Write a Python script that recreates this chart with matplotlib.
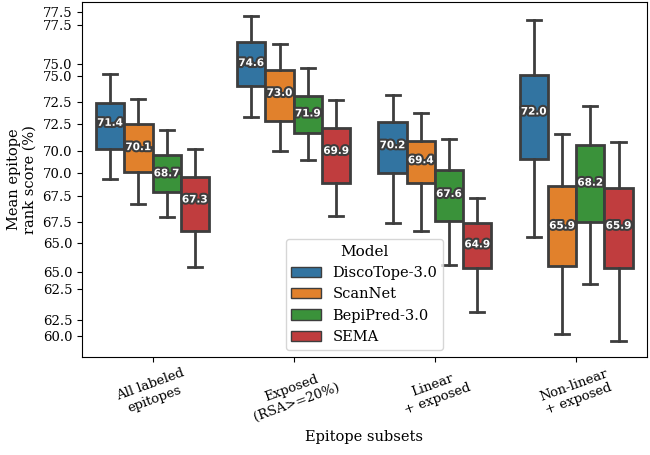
import matplotlib
matplotlib.use("Agg")
import matplotlib.pyplot as plt
import matplotlib.patheffects as pe
from matplotlib.patches import Patch
import numpy as np

plt.rcParams['font.family'] = ['DejaVu Serif']

subsets = ["All labeled\nepitopes", "Exposed\n(RSA>=20%)", "Linear\n+ exposed", "Non-linear\n+ exposed"]
models = ["DiscoTope-3.0", "ScanNet", "BepiPred-3.0", "SEMA"]
colors = ["#3274a1", "#e1812c", "#3a923a", "#c03d3e"]

# box statistics per model, one value per subset
whis_hi = {
    "DiscoTope-3.0": [74.0, 77.1, 72.9, 76.9],
    "ScanNet":       [72.7, 75.6, 71.9, 70.8],
    "BepiPred-3.0":  [71.0, 74.35, 70.55, 72.3],
    "SEMA":          [70.0, 72.6, 67.4, 70.35],
}
q3 = {
    "DiscoTope-3.0": [72.46, 75.72, 71.42, 73.98],
    "ScanNet":       [71.32, 74.21, 70.45, 68.03],
    "BepiPred-3.0":  [69.67, 72.84, 68.9, 70.24],
    "SEMA":          [68.53, 71.13, 66.07, 67.92],
}
medians = {
    "DiscoTope-3.0": [71.4, 74.6, 70.2, 72.0],
    "ScanNet":       [70.1, 73.0, 69.4, 65.9],
    "BepiPred-3.0":  [68.7, 71.9, 67.6, 68.2],
    "SEMA":          [67.3, 69.9, 64.9, 65.9],
}
q1 = {
    "DiscoTope-3.0": [69.99, 73.35, 68.72, 69.49],
    "ScanNet":       [68.78, 71.51, 68.16, 63.74],
    "BepiPred-3.0":  [67.68, 70.83, 66.14, 66.11],
    "SEMA":          [65.61, 68.16, 63.65, 63.65],
}
whis_lo = {
    "DiscoTope-3.0": [68.42, 71.71, 66.02, 65.3],
    "ScanNet":       [67.04, 69.87, 65.61, 60.11],
    "BepiPred-3.0":  [66.36, 69.39, 63.78, 62.78],
    "SEMA":          [63.7, 66.43, 61.27, 59.73],
}

# y tick marks as they appear in the figure (labels are duplicated)
ytick_pos = [77.32, 76.61, 74.57, 73.89, 72.5, 71.32, 69.9, 68.72, 67.48, 66.11, 64.95, 63.43, 62.49, 60.85, 60.0]
ytick_labels = ["77.5", "77.5", "75.0", "75.0", "72.5", "72.5", "70.0", "70.0",
                "67.5", "67.5", "65.0", "65.0", "62.5", "62.5", "60.0"]

fig = plt.figure(figsize=(6.5, 4.55), dpi=100)
ax = fig.add_axes([0.126, 0.2154, 0.869, 0.7802])

line_col = "#3d3d3d"
width = 0.8 / len(models)
x = np.arange(len(subsets))
for j, m in enumerate(models):
    pos = x - 0.4 + width * (j + 0.5)
    stats = []
    for i in range(len(subsets)):
        stats.append(dict(whislo=whis_lo[m][i], q1=q1[m][i], med=medians[m][i],
                          q3=q3[m][i], whishi=whis_hi[m][i], fliers=[]))
    ax.bxp(stats, positions=pos, widths=width, patch_artist=True, showfliers=False,
           capwidths=width * 0.5,
           boxprops=dict(facecolor=colors[j], edgecolor=line_col, linewidth=2),
           whiskerprops=dict(color=line_col, linewidth=2),
           capprops=dict(color=line_col, linewidth=2),
           medianprops=dict(color=line_col, linewidth=2))
    for i in range(len(subsets)):
        ax.text(pos[i], medians[m][i], f"{medians[m][i]:.1f}", ha="center", va="center",
                fontsize=7.5, fontweight="bold", color="white", family="DejaVu Sans",
                path_effects=[pe.withStroke(linewidth=3, foreground=line_col)])

ax.set_xlim(-0.5, 3.5)
ax.set_ylim(58.88, 77.86)
ax.set_xticks(x)
ax.set_xticklabels(subsets, rotation=20, fontsize=9.5)
ax.set_yticks(ytick_pos)
ax.set_yticklabels(ytick_labels, fontsize=9.5)
ax.set_xlabel("Epitope subsets", fontsize=10.5)
ax.set_ylabel("Mean epitope\nrank score (%)", fontsize=10.5)

handles = [Patch(facecolor=c, edgecolor=line_col, label=m) for c, m in zip(colors, models)]
ax.legend(handles=handles, title="Model", loc="lower center", fontsize=10.5, title_fontsize=11)

fig.savefig("out.png", dpi=100)
